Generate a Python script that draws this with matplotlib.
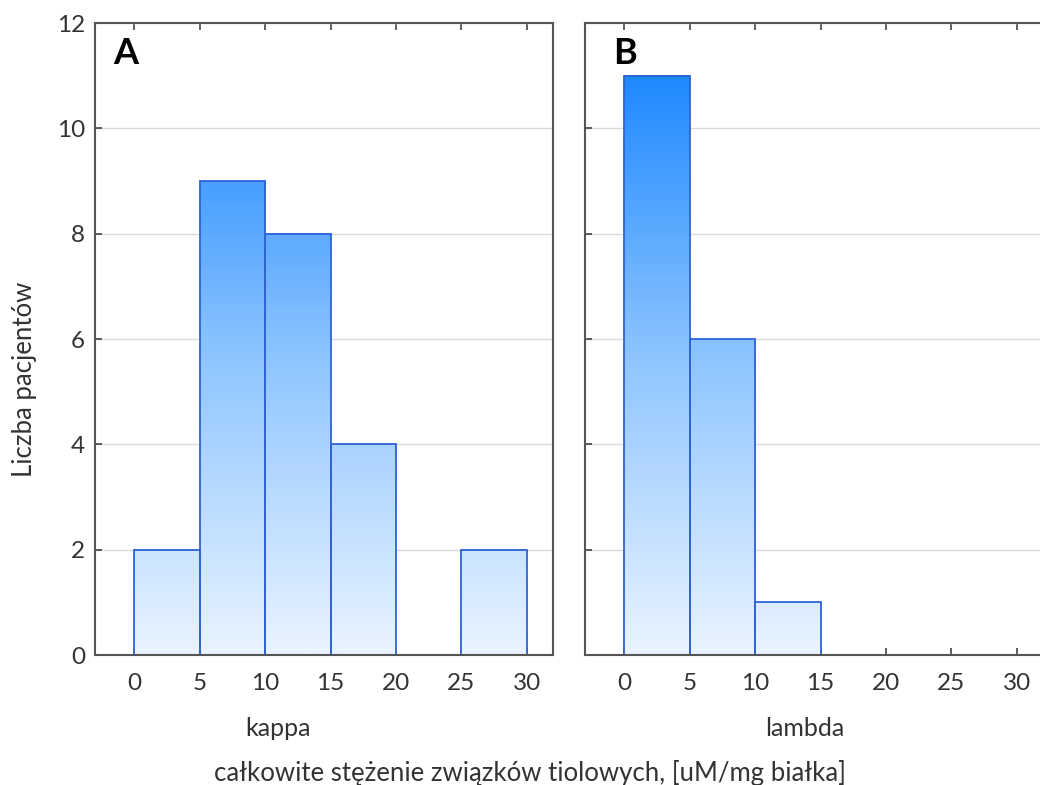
import numpy as np
import matplotlib
matplotlib.use('Agg')
from matplotlib import pyplot as plt
from matplotlib.colors import LinearSegmentedColormap

plt.rcParams['font.family'] = ['Lato', 'DejaVu Sans']

# histogram data
bin_edges = [0, 5, 10, 15, 20, 25, 30]
kappa_counts = [2, 9, 8, 4, 0, 2]
lambda_counts = [11, 6, 1, 0, 0, 0]
panel_letters = ['A', 'B']
group_names = ['kappa', 'lambda']
xticks = [0, 5, 10, 15, 20, 25, 30]
yticks = [0, 2, 4, 6, 8, 10, 12]

cmap = LinearSegmentedColormap.from_list('blues', ['#EAF4FF', '#8CC4FF', '#1483FF'])

fig = plt.figure(figsize=(10.4, 7.85), dpi=100)
axA = fig.add_axes([0.0913, 0.1656, 0.4404, 0.805])
axB = fig.add_axes([0.5625, 0.1656, 0.4404, 0.805])

letter_x = [-1.6, -0.85]

for ax, counts, letter, lx in zip([axA, axB], [kappa_counts, lambda_counts], panel_letters, letter_x):
    ax.grid(axis='y', color='#d9d9d9', linewidth=1, zorder=0)
    ax.set_axisbelow(True)
    for i, c in enumerate(counts):
        if c == 0:
            continue
        x0, x1 = bin_edges[i], bin_edges[i + 1]
        grad = np.linspace(0, c, 200).reshape(-1, 1)
        ax.imshow(grad, extent=[x0, x1, 0, c], origin='lower', aspect='auto',
                  cmap=cmap, vmin=0, vmax=11.5, zorder=2)
        ax.bar(x0, c, width=5, align='edge', fill=False,
               edgecolor='#2F63D6', linewidth=1.3, zorder=3)
    ax.set_xlim(-3, 32)
    ax.set_ylim(0, 12)
    ax.set_xticks(xticks)
    ax.set_yticks(yticks)
    ax.tick_params(direction='in', length=5, width=1.2, color='#444444',
                   labelsize=17.5, labelcolor='#333333', top=True, pad=13)
    ax.tick_params(axis='y', pad=7)
    for s in ax.spines.values():
        s.set_color('#555555')
        s.set_linewidth(1.5)
        s.set_zorder(4)
    ax.text(lx, 11.43, letter, fontsize=26, fontweight='bold', va='center', ha='left', zorder=5)

axB.tick_params(axis='y', labelleft=False)

fig.text(278 / 1040, 1 - 728 / 785, group_names[0], fontsize=18, ha='center', va='center', color='#333333')
fig.text(805 / 1040, 1 - 728 / 785, group_names[1], fontsize=18, ha='center', va='center', color='#333333')
fig.text(530 / 1040, 1 - 773 / 785, 'całkowite stężenie związków tiolowych, [uM/mg białka]',
         fontsize=18.5, ha='center', va='center', color='#333333')
fig.text(25 / 1040, 1 - 379 / 785, 'Liczba pacjentów', fontsize=18.5, rotation=90,
         ha='center', va='center', color='#333333')

fig.savefig('out.png', dpi=100)
